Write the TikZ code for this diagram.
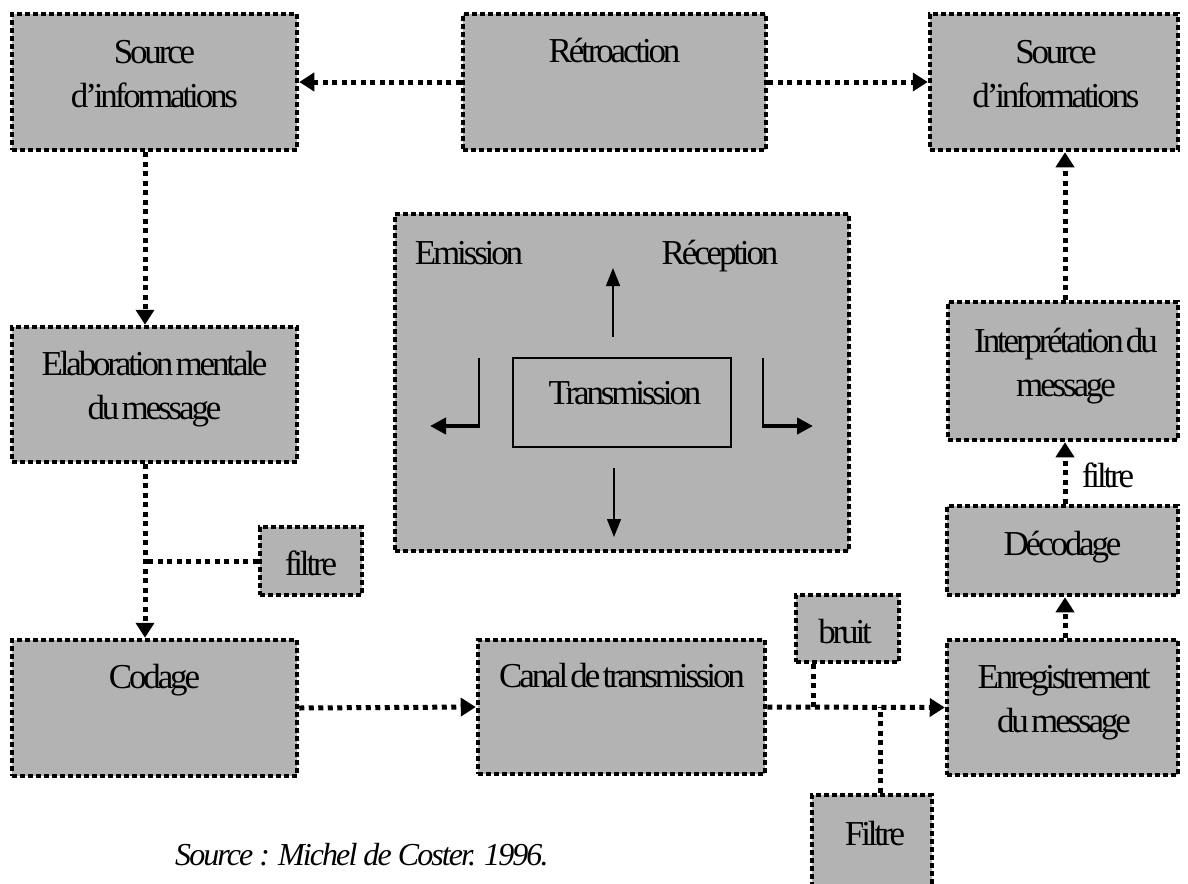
\documentclass[tikz,border=0pt]{standalone}
\usepackage{fontspec}
\setmainfont{Liberation Serif}
\newfontfamily\diafont{Liberation Serif}[LetterSpace=-9, WordSpace=0.4]
\newfontfamily\capfont{Liberation Serif}[LetterSpace=-6]
\usetikzlibrary{arrows.meta}
\definecolor{boxgray}{RGB}{179,179,179}
\tikzset{
  box/.style={draw=black, fill=boxgray, line width=4.5pt,
    dash pattern=on 5pt off 3pt, inner sep=0pt},
  txt/.style={font=\diafont\fontsize{35}{44}\selectfont, align=center,
    inner sep=0pt, anchor=base},
  capt/.style={font=\capfont\itshape\fontsize{32}{36}\selectfont,
    inner sep=0pt, anchor=base west},
  link/.style={line width=5pt, dash pattern=on 5pt off 4.5pt},
  flow/.style={link, -{Triangle[length=15pt,width=18pt]}},
  inarrow/.style={line width=1.5pt, -{Triangle[length=18pt,width=14pt]}},
  inline/.style={line width=1.5pt},
  inbold/.style={line width=4pt, -{Triangle[length=16pt,width=16pt]}},
}
\begin{document}
\begin{tikzpicture}[x=1pt,y=-1pt]
\useasboundingbox (0,0) rectangle (1188,883);

% boxes
\node[box, minimum width=285, minimum height=136] (srcL)   at (154.5,82) {};
\node[box, minimum width=303, minimum height=136] (retro)  at (614.5,82) {};
\node[box, minimum width=248, minimum height=136] (srcR)   at (1054,82) {};
\node[box, minimum width=285, minimum height=135] (elab)   at (154.5,394.5) {};
\node[box, minimum width=454, minimum height=337] (centre) at (622,382.5) {};
\node[draw=black, line width=1.3pt, inner sep=0pt,
      minimum width=218, minimum height=89] (trans) at (622,402.5) {};
\node[box, minimum width=230, minimum height=138] (interp) at (1063,371) {};
\node[box, minimum width=102, minimum height=68]  (filtL)  at (311,561) {};
\node[box, minimum width=231, minimum height=89]  (decod)  at (1062.5,550.5) {};
\node[box, minimum width=285, minimum height=136] (codage) at (154.5,708) {};
\node[box, minimum width=287, minimum height=134] (canal)  at (621.5,707) {};
\node[box, minimum width=103, minimum height=67]  (bruit)  at (847.5,628.5) {};
\node[box, minimum width=231, minimum height=135] (enreg)  at (1062.5,707.5) {};
\node[box, minimum width=120, minimum height=105] (filtB)  at (872,847.5) {};

% texts (multi-line nodes are placed by the baseline of their last line)
\node[txt] (srcL-t)   at (154.5,107) {Source\\d’informations};
\node[txt] (retro-t)  at (614.5,63) {Rétroaction};
\node[txt] (srcR-t)   at (1056,107) {Source\\d’informations};
\node[txt] (elab-t)   at (154.5,419) {Elaboration mentale\\du message};
\node[txt] (emis-t)   at (469,264) {Emission};
\node[txt] (recep-t)  at (720,264) {Réception};
\node[txt] (trans-t)  at (625,404) {Transmission};
\node[txt] (interp-t) at (1066,396) {Interprétation du\\message};
\node[txt] (filtL-t)  at (311,575) {filtre};
\node[txt] (decod-t)  at (1062.5,555) {Décodage};
\node[txt] (codage-t) at (154.5,688) {Codage};
\node[txt] (canal-t)  at (622,687) {Canal de transmission};
\node[txt] (bruit-t)  at (845,643) {bruit};
\node[txt] (enreg-t)  at (1064,732) {Enregistrement\\du message};
\node[txt] (filtB-t)  at (875,845) {Filtre};
\node[txt] (filtR-t)  at (1108,487) {filtre};
\node[capt] (source)  at (175,865) {Source : Michel de Coster. 1996.};

% axes of the vertical connectors
\coordinate (lx) at (145,0);
\coordinate (rx) at (1065,0);
\coordinate (bx) at (813,707);
\coordinate (fx) at (880,707);

% feedback
\draw[flow] (retro.west) -- (srcL.east);
\draw[flow] (retro.east) -- (srcR.west);

% sender side
\draw[flow] (srcL.south -| lx) -- (elab.north -| lx);
\draw[flow] (elab.south -| lx) -- (codage.north -| lx);
\draw[link] (filtL.west) -- (filtL.west -| lx);
\draw[flow] (codage.east) -- (canal.west);

% channel, noise and filter
\draw[flow] (canal.east) -- (enreg.west);
\draw[link] (bruit.south -| bx) -- (bx);
\draw[link] (filtB.north -| fx) -- (fx);

% receiver side
\draw[flow] (enreg.north -| rx) -- (decod.south -| rx);
\draw[flow] (decod.north -| rx) -- (interp.south -| rx);
\draw[flow] (interp.north -| rx) -- (srcR.south -| rx);

% arrows around the transmission box
\coordinate (upA) at (613,337);  \coordinate (upB) at (613,268);
\coordinate (dnA) at (614,468);  \coordinate (dnB) at (614,537);
\coordinate (lA) at (479,358);   \coordinate (lB) at (479,426);
\coordinate (lC) at (430,426);
\coordinate (rA) at (763,358);   \coordinate (rB) at (763,426);
\coordinate (rC) at (813,426);
\draw[inarrow] (upA) -- (upB);
\draw[inarrow] (dnA) -- (dnB);
\draw[inline] (lA) -- (lB);
\draw[inbold] ([xshift=0.75pt]lB) -- (lC);
\draw[inline] (rA) -- (rB);
\draw[inbold] ([xshift=-0.75pt]rB) -- (rC);
\end{tikzpicture}
\end{document}
